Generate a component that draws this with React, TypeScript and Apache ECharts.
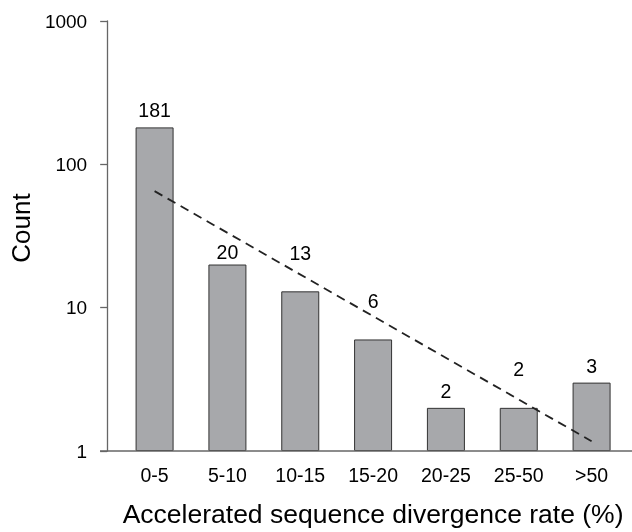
import React, { useEffect, useRef } from "react";
import * as echarts from "echarts";

const categories = ["0-5", "5-10", "10-15", "15-20", "20-25", "25-50", ">50"];
const counts = [181, 20, 13, 6, 2, 2, 3];
const trendStart = 65;
const trendEnd = 1.17;
const yTicks = [1, 10, 100, 1000];

// extra vertical shift (px) for a few labels so they sit above the trend line
const labelShift = [0, 4, -21, -21, 0, -22, 0];

const FONT = "'Liberation Sans', Arial, Helvetica, sans-serif";

export default function App() {
  const ref = useRef<HTMLDivElement>(null);
  useEffect(() => {
    if (!ref.current) return;
    const chart = echarts.init(ref.current, null, { renderer: "svg" });
    const trendData = categories.map((_, i) =>
      i === 0 ? trendStart : i === categories.length - 1 ? trendEnd : null
    );
    chart.setOption({
      animation: false,
      grid: { left: 117, right: 4, top: 21, bottom: 81, containLabel: false },
      xAxis: {
        type: "category",
        data: categories,
        axisLine: { show: false },
        axisTick: { show: false },
        axisLabel: { color: "#000", fontSize: 19.5, fontFamily: FONT, margin: 14 },
        name: "Accelerated sequence divergence rate (%)",
        nameLocation: "middle",
        nameGap: 49,
        nameTextStyle: { color: "#000", fontSize: 26.5, fontFamily: FONT },
      },
      yAxis: {
        type: "log",
        logBase: 10,
        min: yTicks[0],
        max: yTicks[yTicks.length - 1],
        offset: 11,
        splitLine: { show: false },
        axisLine: { show: true, lineStyle: { color: "#666", width: 1.3 } },
        axisTick: { show: true, length: 7, lineStyle: { color: "#666", width: 1.3 } },
        axisLabel: {
          color: "#000",
          fontSize: 19,
          fontFamily: FONT,
          margin: 20,
          formatter: (v: number) => String(Math.round(v)),
        },
        name: "Count",
        nameLocation: "middle",
        nameGap: 70,
        nameTextStyle: { color: "#000", fontSize: 26, fontFamily: FONT, padding: [0, 0, 0, 16] },
      },
      graphic: [
        {
          type: "line",
          shape: { x1: 100, y1: 451, x2: 632, y2: 451 },
          style: { stroke: "#666", lineWidth: 1.3 },
          z: 10,
        },
      ],
      series: [
        {
          type: "bar",
          barWidth: 38,
          data: counts.map((v, i) => ({
            value: v,
            label: { offset: [0, labelShift[i]] },
          })),
          itemStyle: { color: "#a7a8ab", borderColor: "#333", borderWidth: 1 },
          label: {
            show: true,
            position: "top",
            distance: 7,
            color: "#000",
            fontSize: 19.5,
            fontFamily: FONT,
          },
        },
        {
          type: "line",
          data: trendData,
          connectNulls: true,
          symbol: "none",
          lineStyle: { color: "#222", width: 1.8, type: [9, 6] },
          z: 5,
        },
      ],
    });
    return () => chart.dispose();
  }, []);
  return (
    <div
      ref={ref}
      style={{ position: "fixed", left: 0, top: 0, width: 632, height: 532 }}
    />
  );
}
